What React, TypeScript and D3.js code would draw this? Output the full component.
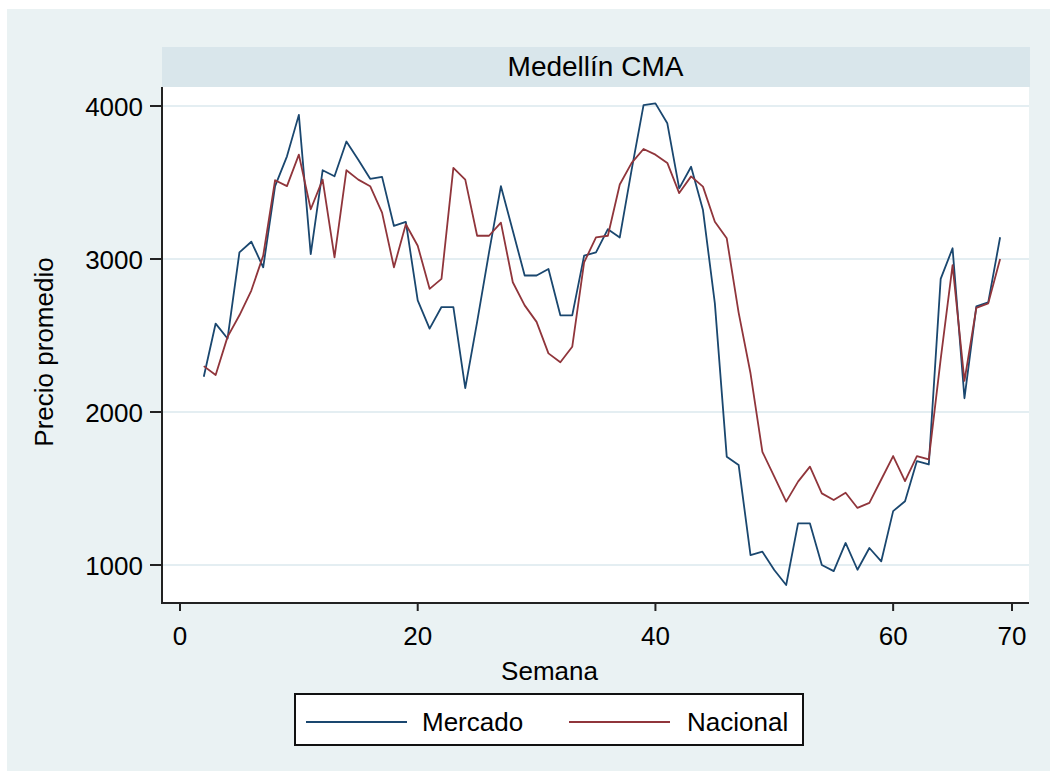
import React from "react";
import * as d3 from "d3";

const weeks: number[] = [
  2, 3, 4, 5, 6, 7, 8, 9, 10, 11, 12, 13, 14, 15, 16, 17, 18, 19, 20, 21, 22, 23, 24, 25, 26, 27, 28, 29, 30, 31, 32, 33, 34, 35,
  36, 37, 38, 39, 40, 41, 42, 43, 44, 45, 46, 47, 48, 49, 50, 51, 52, 53, 54, 55, 56, 57, 58, 59, 60, 61, 62, 63, 64, 65, 66, 67, 68, 69,
];

const mercado: number[] = [
  2230, 2578, 2480, 3043, 3113, 2946, 3476, 3671, 3942, 3032, 3580, 3541, 3768, 3649, 3524, 3537, 3216, 3242, 2729, 2545, 2686, 2686,
  2156, 2589, 3043, 3476, 3184, 2892, 2892, 2935, 2632, 2632, 3022, 3043, 3195, 3141, 3584, 4006, 4017, 3887, 3462, 3603, 3320, 2710,
  1708, 1654, 1065, 1087, 967, 869, 1272, 1272, 1000, 960, 1144, 969, 1111, 1024, 1352, 1417, 1679, 1657, 2870, 3070, 2090, 2690, 2716, 3142,
];

const nacional: number[] = [
  2300, 2242, 2491, 2632, 2794, 3022, 3515, 3476, 3682, 3325, 3519, 3011, 3580, 3519, 3476, 3303, 2946, 3227, 3087, 2805, 2870, 3595,
  3519, 3152, 3152, 3238, 2848, 2697, 2589, 2383, 2325, 2426, 2978, 3141, 3152, 3487, 3628, 3719, 3682, 3628, 3431, 3540, 3473, 3244,
  3135, 2650, 2253, 1740, 1577, 1414, 1545, 1643, 1468, 1425, 1472, 1373, 1406, 1559, 1712, 1548, 1712, 1690, 2345, 2960, 2203, 2680, 2710, 3000,
];

const xTicks: number[] = [0, 20, 40, 60, 70];
const yTicks: number[] = [1000, 2000, 3000, 4000];
const title = "Medellín CMA";
const xLabel = "Semana";
const yLabel = "Precio promedio";
const seriesNames: string[] = ["Mercado", "Nacional"];

const W = 1055;
const H = 777;
const plot = { left: 162, right: 1029, top: 87, bottom: 603 };
const NAVY = "#1a476f";
const MAROON = "#90353b";
const BG = "#eaf2f3";
const STRIP = "#d9e6eb";
const FONT = "'Liberation Sans', Arial, Helvetica, sans-serif";

export default function App() {
  const x = d3.scaleLinear().domain([0, 70]).range([180, 1012]);
  const y = d3.scaleLinear().domain([1000, 4000]).range([565, 106]);

  const line = (vals: number[]) =>
    d3
      .line<number>()
      .x((_, i) => x(weeks[i]))
      .y((v) => y(v))(vals) || "";

  const series = [
    { name: seriesNames[0], vals: mercado, color: NAVY },
    { name: seriesNames[1], vals: nacional, color: MAROON },
  ];

  return (
    <div style={{ position: "absolute", left: 0, top: 0 }}>
      <svg width={W} height={H} style={{ display: "block", fontFamily: FONT }}>
        <rect x={0} y={0} width={W} height={H} fill="#ffffff" />
        <rect x={7} y={9} width={1043} height={762} fill={BG} />
        {/* title strip */}
        <rect x={plot.left} y={47} width={plot.right - plot.left + 1} height={40} fill={STRIP} />
        <text x={(plot.left + plot.right) / 2} y={76} textAnchor="middle" fontSize={28} fill="#000">
          {title}
        </text>
        {/* plot area */}
        <rect x={plot.left} y={plot.top} width={plot.right - plot.left} height={plot.bottom - plot.top} fill="#ffffff" />
        {yTicks.map((t) => (
          <line key={"g" + t} x1={plot.left} x2={plot.right} y1={y(t)} y2={y(t)} stroke="#e4eef2" strokeWidth={2} />
        ))}
        {series.map((s) => (
          <path key={s.name} d={line(s.vals)} fill="none" stroke={s.color} strokeWidth={1.8} strokeLinejoin="round" />
        ))}
        {/* axes */}
        <line x1={plot.left} x2={plot.left} y1={plot.top} y2={plot.bottom + 1} stroke="#222" strokeWidth={2} />
        <line x1={plot.left - 1} x2={plot.right} y1={plot.bottom} y2={plot.bottom} stroke="#222" strokeWidth={2} />
        {yTicks.map((t) => (
          <g key={"y" + t}>
            <line x1={plot.left - 12} x2={plot.left} y1={y(t)} y2={y(t)} stroke="#222" strokeWidth={2} />
            <text x={143} y={y(t) + 9.5} textAnchor="end" fontSize={26} fill="#000">
              {t}
            </text>
          </g>
        ))}
        {xTicks.map((t) => (
          <g key={"x" + t}>
            <line x1={x(t)} x2={x(t)} y1={plot.bottom} y2={plot.bottom + 8} stroke="#222" strokeWidth={2} />
            <text x={x(t)} y={645} textAnchor="middle" fontSize={26} fill="#000">
              {t}
            </text>
          </g>
        ))}
        <text x={(plot.left + plot.right) / 2 - 46} y={680} textAnchor="middle" fontSize={26} fill="#000">
          {xLabel}
        </text>
        <text
          transform={`translate(53, 352) rotate(-90)`}
          textAnchor="middle"
          fontSize={26}
          fill="#000"
        >
          {yLabel}
        </text>
        {/* legend */}
        <rect x={295} y={694} width={508} height={51} fill="#ffffff" stroke="#111" strokeWidth={2} />
        <line x1={306} x2={407} y1={722} y2={722} stroke={NAVY} strokeWidth={2} />
        <text x={422} y={731} fontSize={26} fill="#000">
          {seriesNames[0]}
        </text>
        <line x1={569} x2={670} y1={722} y2={722} stroke={MAROON} strokeWidth={2} />
        <text x={687} y={731} fontSize={26} fill="#000">
          {seriesNames[1]}
        </text>
      </svg>
    </div>
  );
}
